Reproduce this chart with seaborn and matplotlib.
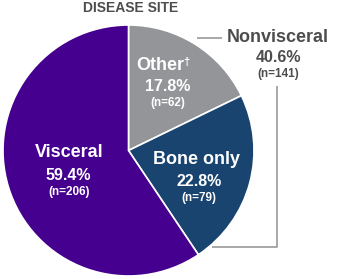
import matplotlib
matplotlib.use("Agg")
import matplotlib.pyplot as plt
import seaborn as sns

categories = ["Other\u2020", "Bone only", "Visceral"]
percents = [17.8, 22.8, 59.4]
counts = [62, 79, 206]
group_label = "Nonvisceral"
group_percent = 40.6
group_count = 141
title = "DISEASE SITE"

sns.set_theme(style="white")
plt.rcParams['font.family'] = ['Liberation Sans', 'DejaVu Sans']

colors = sns.color_palette(["#939598", "#1A4470", "#46008F"])
dark = "#4D4D4F"

W, H = 338, 279
fig = plt.figure(figsize=(W / 100, H / 100), dpi=100)
ax = fig.add_axes([0, 0, 1, 1])
cx, cy, R = 128.5, 150.5, 125.5

ax.pie(percents, colors=colors, startangle=90, counterclock=False,
       radius=1, center=(0, 0),
       wedgeprops=dict(edgecolor="white", linewidth=1.2))
ax.set_xlim(-cx / R, (W - cx) / R)
ax.set_ylim(-(H - cy) / R, cy / R)
ax.set_aspect("equal")
ax.axis("off")


def P(x, y):
    return ((x - cx) / R, (cy - y) / R)


def txt(x, y, s, size, color, weight="bold", ha="center"):
    ax.text(*P(x, y), s, ha=ha, va="center", fontsize=size,
            color=color, fontweight=weight)


txt(131, 8, title, 10, dark)

# slice labels
pos = {"Other\u2020": (160, 66, 168, 87, 168, 103),
       "Bone only": (197, 160, 199, 182, 199, 198),
       "Visceral": (69, 153, 68, 176, 69, 192)}
for c, p, n in zip(categories, percents, counts):
    x1, y1, x2, y2, x3, y3 = pos[c]
    if c.endswith("\u2020"):
        txt(x1, y1, c[:-1], 13, "white")
        txt(x1 + 23, y1 - 4, "\u2020", 8, "white", ha="left")
    else:
        txt(x1, y1, c, 13, "white")
    txt(x2, y2, f"{p}%", 11.5, "white")
    txt(x3, y3, f"(n={n})", 8.5, "white")

# group label
txt(278, 38, group_label, 13, dark)
txt(278, 58, f"{group_percent}%", 11.5, dark)
txt(278, 74, f"(n={group_count})", 8.5, dark)

lc = "#999999"
ax.plot(*zip(P(197, 38), P(222, 38)), color=lc, lw=1.2, solid_capstyle="butt")
ax.plot(*zip(P(277, 86), P(277, 247), P(212, 247)), color=lc, lw=1.2,
        solid_capstyle="butt", zorder=0)

fig.savefig("out.png", dpi=100)
